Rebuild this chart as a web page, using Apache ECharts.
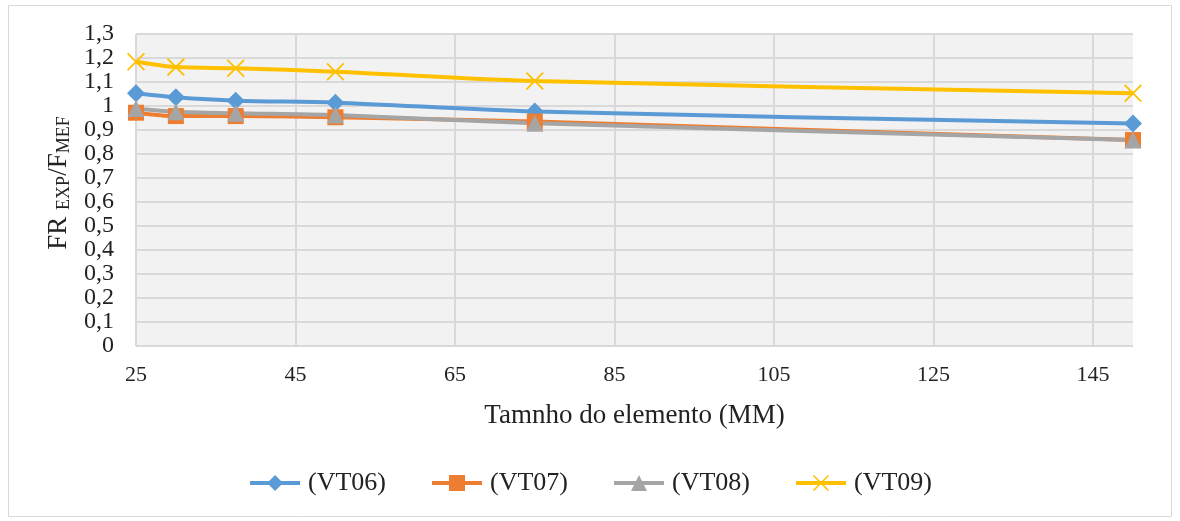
<!DOCTYPE html>
<html><head><meta charset="utf-8">
<script src="https://cdn.jsdelivr.net/npm/echarts@6/dist/echarts.min.js"></script>
<style>html,body{margin:0;padding:0;background:#fff}#c{width:1180px;height:521px}</style>
</head><body><div id="c"></div>
<script>
const xValues = [25, 30, 37.5, 50, 75, 150];
const vt06 = [1.053, 1.036, 1.022, 1.014, 0.977, 0.927];
const vt07 = [0.972, 0.958, 0.958, 0.953, 0.935, 0.858];
const vt08 = [0.99, 0.976, 0.97, 0.962, 0.928, 0.858];
const vt09 = [1.184, 1.162, 1.157, 1.143, 1.104, 1.053];
const seriesNames = ['(VT06)', '(VT07)', '(VT08)', '(VT09)'];
const colors = ['#5B9BD5', '#ED7D31', '#A5A5A5', '#FFC000'];
const xTitle = 'Tamnho do elemento (MM)';

const font = 'Liberation Serif, Times New Roman, serif';
const xSym = 'path://M0,0.7L0.7,0L5,4.3L9.3,0L10,0.7L5.7,5L10,9.3L9.3,10L5,5.7L0.7,10L0,9.3L4.3,5Z';
const pair = arr => xValues.map((x, i) => [x, arr[i]]);
const mk = (name, data, color, symbol, size) => ({
  name, type: 'line', data: pair(data), smooth: 0.3,
  symbol, symbolSize: size, showSymbol: true,
  lineStyle: { color, width: 4 }, itemStyle: { color },
  emphasis: { disabled: true }
});

const chart = echarts.init(document.getElementById('c'), null, { renderer: 'canvas' });
chart.setOption({
  animation: false,
  color: colors,
  textStyle: { fontFamily: font },
  graphic: [{ type: 'rect', shape: { x: 8.5, y: 5.5, width: 1163, height: 511 },
    style: { fill: 'none', stroke: '#d9d9d9', lineWidth: 1 }, silent: true }],
  grid: { left: 136, right: 47, top: 34, bottom: 175, show: true, backgroundColor: '#f2f2f2', borderWidth: 0 },
  legend: {
    top: 465, left: 'center', itemWidth: 50, itemHeight: 20, itemGap: 44,
    lineStyle: { width: 4 },
    textStyle: { fontFamily: font, fontSize: 26, color: '#222', padding: [0, 0, 0, 3] },
    data: seriesNames
  },
  xAxis: {
    type: 'value', min: 25, max: 150, interval: 20,
    name: xTitle, nameLocation: 'middle', nameGap: 56,
    nameTextStyle: { fontFamily: font, fontSize: 27, color: '#222' },
    axisLine: { show: false }, axisTick: { show: false },
    axisLabel: { showMaxLabel: false, fontFamily: font, fontSize: 22, color: '#222', margin: 18 },
    splitLine: { show: true, showMaxLine: false, lineStyle: { color: '#d9d9d9', width: 2 } }
  },
  yAxis: {
    type: 'value', min: 0, max: 1.3, interval: 0.1,
    name: 'FR {sub|EXP}/F{sub|MEF}', nameLocation: 'middle', nameGap: 62, nameRotate: 90,
    nameTextStyle: { fontFamily: font, fontSize: 27, color: '#222', padding: [0, 0, 0, 14],
      rich: { sub: { fontFamily: font, fontSize: 18, color: '#222', verticalAlign: 'bottom', padding: [10, 0, 0, 0] } } },
    axisLine: { show: false }, axisTick: { show: false },
    axisLabel: { fontFamily: font, fontSize: 24, color: '#222', margin: 22,
      formatter: v => String(Math.round(v * 10) / 10).replace('.', ',') },
    splitLine: { show: true, lineStyle: { color: '#d9d9d9', width: 2 } }
  },
  series: [
    mk(seriesNames[0], vt06, colors[0], 'diamond', 18),
    mk(seriesNames[1], vt07, colors[1], 'rect', 16),
    mk(seriesNames[2], vt08, colors[2], 'triangle', 17),
    mk(seriesNames[3], vt09, colors[3], xSym, 18)
  ]
});
</script></body></html>
